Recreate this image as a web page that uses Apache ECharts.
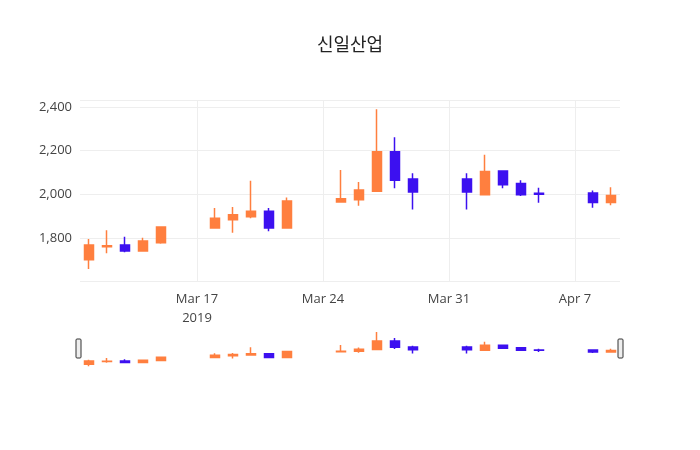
<!DOCTYPE html>
<html>
<head>
<meta charset="utf-8">
<script src="https://cdn.jsdelivr.net/npm/echarts@6/dist/echarts.min.js"></script>
<style>html,body{margin:0;padding:0;background:#fff}#main{width:700px;height:450px}</style>
</head>
<body>
<div id="main"></div>
<script>
// trading days, [open, close, low, high]
var dates = ['2019-03-11','2019-03-12','2019-03-13','2019-03-14','2019-03-15',
  '2019-03-18','2019-03-19','2019-03-20','2019-03-21','2019-03-22',
  '2019-03-25','2019-03-26','2019-03-27','2019-03-28','2019-03-29',
  '2019-04-01','2019-04-02','2019-04-03','2019-04-04','2019-04-05',
  '2019-04-08','2019-04-09'];
var opens  = [1700,1760,1768,1740,1778, 1846,1884,1897,1922,1846, 1965,1975,2014,2195,2070, 2070,1998,2107,2050,2005, 2006,1963];
var closes = [1768,1765,1740,1786,1850, 1891,1907,1922,1846,1970, 1980,2020,2195,2065,2011, 2011,2105,2044,1998,2000, 1963,1995];
var lows   = [1658,1730,1735,1740,1774, 1846,1824,1890,1831,1846, 1963,1948,2014,2028,1931, 1931,1998,2028,1992,1962, 1939,1950];
var highs  = [1795,1836,1806,1801,1852, 1937,1942,2062,1937,1986, 2111,2056,2390,2261,2096, 2096,2181,2107,2065,2030, 2018,2032];
var gridDays = ['2019-03-17','2019-03-24','2019-03-31','2019-04-07'];

var monthNames = ['Jan','Feb','Mar','Apr','May','Jun','Jul','Aug','Sep','Oct','Nov','Dec'];

// full calendar so weekends leave gaps
var days = [];
var d = new Date(Date.UTC(2019, 2, 11));
while (d <= new Date(Date.UTC(2019, 3, 9))) {
  days.push(d.toISOString().slice(0, 10));
  d = new Date(d.getTime() + 86400000);
}
var ohlc = days.map(function (day) {
  var i = dates.indexOf(day);
  return i < 0 ? '-' : [opens[i], closes[i], lows[i], highs[i]];
});

function fmtDay(s) {
  var p = s.split('-');
  var t = monthNames[+p[1] - 1] + ' ' + (+p[2]);
  return s === gridDays[0] ? t + '\n2019' : t;
}

var candleStyle = {color: '#ff7f3f', color0: '#3c10f0', borderColor: '#ff7f3f', borderColor0: '#3c10f0', borderWidth: 1.5};

var chart = echarts.init(document.getElementById('main'));
chart.setOption({
  animation: false,
  textStyle: {fontFamily: '"Open Sans", "DejaVu Sans", sans-serif'},
  title: {
    text: '신일산업', left: 'center', top: 30,
    textStyle: {fontFamily: '"Noto Sans CJK KR"', fontSize: 18, fontWeight: 'normal', color: '#222'}
  },
  grid: [
    {left: 80, right: 80, top: 100.4, height: 181.3},
    {left: 80, right: 80, top: 330, height: 38}
  ],
  xAxis: [{
    type: 'category', data: days, gridIndex: 0,
    axisLine: {show: false}, axisTick: {show: false}, splitLine: {show: false},
    axisLabel: {
      interval: function (i, v) { return gridDays.indexOf(v) >= 0; },
      formatter: fmtDay, color: '#444', fontSize: 13, lineHeight: 19, margin: 8
    }
  }, {
    type: 'category', data: days, gridIndex: 1,
    axisLine: {show: false}, axisTick: {show: false}, axisLabel: {show: false}
  }],
  yAxis: [{
    type: 'value', gridIndex: 0, min: 1600, max: 2430, interval: 200,
    axisLabel: {color: '#444', fontSize: 13, showMinLabel: false, showMaxLabel: false},
    splitLine: {lineStyle: {color: '#eee'}}
  }, {
    type: 'value', gridIndex: 1, min: 1620, max: 2431,
    show: false, splitLine: {show: false}
  }],
  series: [{
    type: 'candlestick', data: ohlc, barWidth: '55%', itemStyle: candleStyle,
    markLine: {
      silent: true, symbol: 'none', label: {show: false},
      lineStyle: {color: '#eee', type: 'solid', width: 1},
      data: gridDays.map(function (g) { return {xAxis: g}; })
    }
  }, {
    type: 'candlestick', data: ohlc, barWidth: '55%', itemStyle: candleStyle,
    xAxisIndex: 1, yAxisIndex: 1
  }],
  graphic: [
    {type: 'rect', shape: {x: 76, y: 339, width: 5, height: 19, r: 1}, style: {fill: '#eee', stroke: '#333', lineWidth: 1}},
    {type: 'rect', shape: {x: 618, y: 339, width: 5, height: 19, r: 1}, style: {fill: '#eee', stroke: '#333', lineWidth: 1}}
  ]
});
</script>
</body>
</html>
